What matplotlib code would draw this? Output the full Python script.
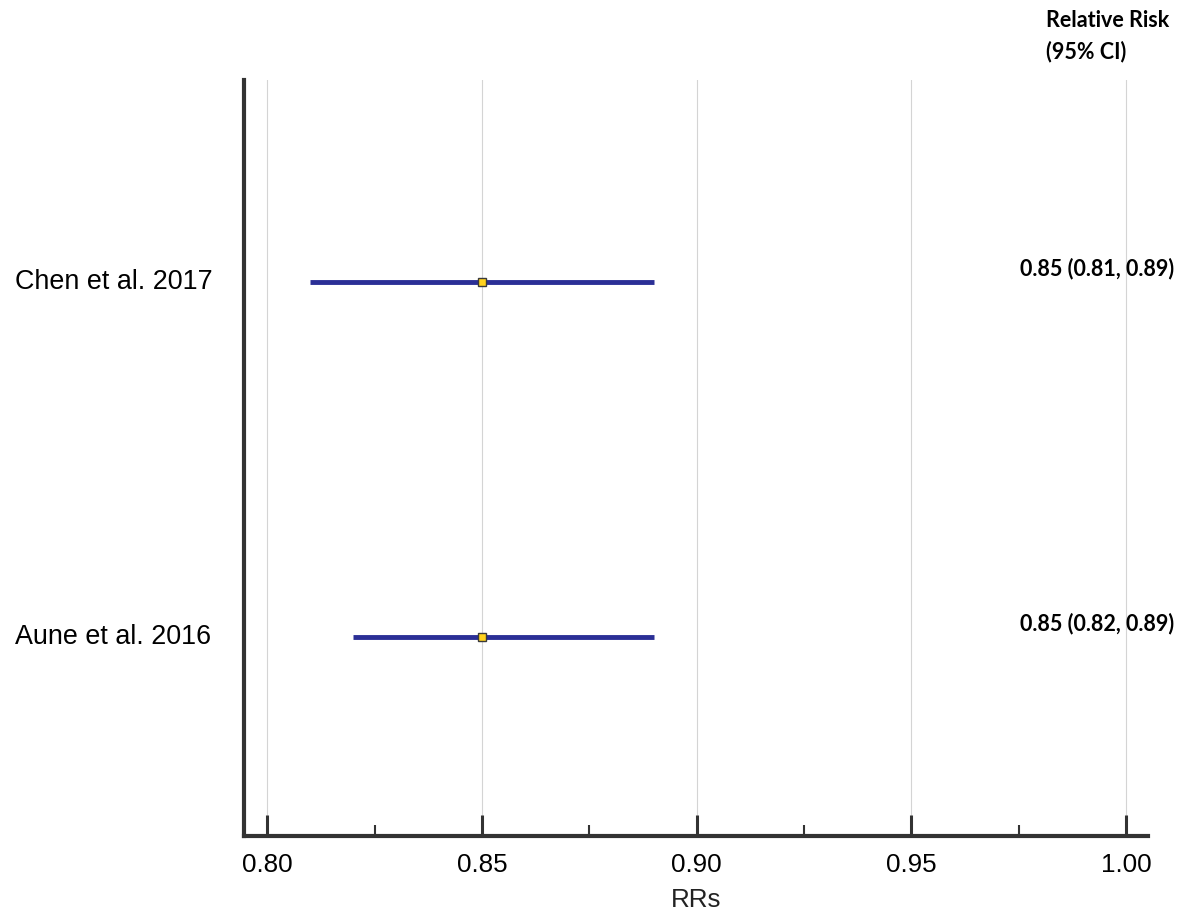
import matplotlib.pyplot as plt
import numpy as np

studies = ["Chen et al. 2017", "Aune et al. 2016"]
rr = [0.85, 0.85]
lower = [0.81, 0.82]
upper = [0.89, 0.89]
ypos = [2, 1]
labels = ["0.85 (0.81, 0.89)", "0.85 (0.82, 0.89)"]

fig = plt.figure(figsize=(11.94, 9.21), dpi=100)
ax = fig.add_axes([0.2044, 0.0923, 0.7571, 0.8208])

# confidence intervals and point estimates
ax.hlines(ypos, lower, upper, color="#2B2F96", lw=3.5, zorder=3)
ax.plot(rr, ypos, ls="none", marker="s", ms=6, mfc="#FFD21F", mec="#3A3A3A",
        mew=1.0, zorder=4)

ax.set_xlim(0.7946, 1.0051)
ax.set_ylim(0.44, 2.57)
ax.set_xticks(np.arange(0.80, 1.001, 0.05))
ax.set_xticks(np.arange(0.825, 1.0, 0.05), minor=True)
ax.set_xticklabels(["0.80", "0.85", "0.90", "0.95", "1.00"],
                   fontsize=18.7, family="Liberation Sans")
ax.tick_params(axis="x", which="major", direction="in", length=15, width=2.2,
               color="#333333", pad=12)
ax.tick_params(axis="x", which="minor", direction="in", length=8, width=1.5,
               color="#333333")
ax.set_yticks([])
ax.grid(axis="x", which="major", color="#D4D4D4", lw=0.8, zorder=0)
ax.set_axisbelow(True)

for s in ["top", "right"]:
    ax.spines[s].set_visible(False)
for s in ["left", "bottom"]:
    ax.spines[s].set_color("#333333")
    ax.spines[s].set_linewidth(3)

ax.set_xlabel("RRs", fontsize=18.7, family="Liberation Sans", labelpad=8,
              color="#222222")

# study names on the left
for name, y in zip(studies, ypos):
    ax.text(-0.253, y, name, transform=ax.get_yaxis_transform(),
            ha="left", va="center", fontsize=19.4, family="Liberation Sans")

# effect sizes on the right
fig.text(1046 / 1194, 1 - 36 / 921, "Relative Risk\n(95% CI)", ha="left",
         va="center", fontsize=15.5, fontweight="bold", family="Lato",
         linespacing=1.55)
for lab, y in zip(labels, ypos):
    ax.text(0.858, y + 0.04, lab, transform=ax.get_yaxis_transform(),
            ha="left", va="center", fontsize=15.5, fontweight="bold",
            family="Lato", clip_on=False)

fig.savefig("out.png", dpi=100)
